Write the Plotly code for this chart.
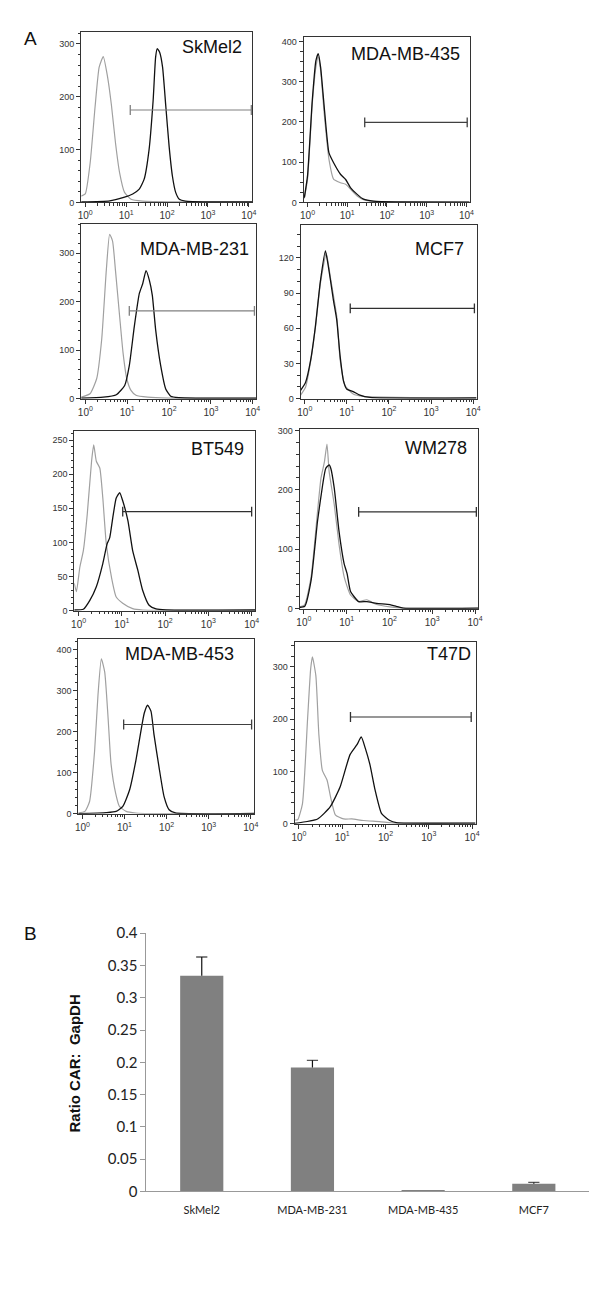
import plotly.graph_objects as go
import math

# ---------------- DATA ----------------
# Flow-cytometry histograms: x = log10(fluorescence), y = counts
skmel2_ctrl_x = [-0.1, 0.0, 0.12, 0.24, 0.34, 0.44, 0.54, 0.64, 0.74, 0.84, 0.96, 1.12, 1.40, 2.21, 4.08]
skmel2_ctrl_y = [12, 16, 75, 181, 256, 276, 240, 184, 112, 56, 19, 6, 2.5, 1, 0.5]
skmel2_car_x = [-0.1, 0.6, 0.92, 1.16, 1.32, 1.44, 1.56, 1.66, 1.72, 1.76, 1.82, 1.89, 1.97, 2.05, 2.13, 2.21, 2.30, 2.45, 3.0, 4.08]
skmel2_car_y = [1, 3, 9, 16, 25, 44, 100, 194, 275, 291, 284, 256, 181, 106, 50, 19, 6, 2.5, 1, 1]

mb435_ctrl_x = [-0.08, 0.0, 0.12, 0.21, 0.27, 0.33, 0.42, 0.54, 0.66, 0.83, 0.96, 1.08, 1.25, 1.41, 1.66, 2.24, 4.08]
mb435_ctrl_y = [10, 57, 246, 336, 362, 328, 221, 107, 57, 49, 45, 33, 16, 7, 2.5, 1, 0.5]
mb435_car_x = [-0.08, 0.0, 0.12, 0.21, 0.27, 0.33, 0.42, 0.54, 0.66, 0.83, 0.96, 1.08, 1.25, 1.41, 1.66, 2.24, 4.08]
mb435_car_y = [12, 66, 254, 352, 370, 336, 238, 123, 98, 70, 57, 37, 20, 8, 3, 1, 0.5]

mb231_ctrl_x = [-0.1, 0.11, 0.27, 0.39, 0.50, 0.58, 0.65, 0.72, 0.82, 0.90, 0.99, 1.09, 1.21, 1.49, 2.0, 4.08]
mb231_ctrl_y = [3, 10, 41, 122, 264, 339, 325, 264, 169, 95, 41, 17, 7, 3, 1, 0.5]
mb231_car_x = [-0.1, 0.43, 0.74, 0.94, 1.05, 1.17, 1.29, 1.37, 1.45, 1.53, 1.60, 1.68, 1.80, 1.92, 2.04, 2.23, 4.08]
mb231_car_y = [1, 3, 8, 27, 68, 149, 217, 237, 264, 244, 213, 142, 68, 20, 5, 2, 1]

mcf7_ctrl_x = [-0.1, 0.02, 0.14, 0.25, 0.37, 0.51, 0.61, 0.76, 0.84, 0.96, 1.15, 1.39, 4.08]
mcf7_ctrl_y = [3, 10, 32, 60, 98, 124, 103, 70, 33, 11, 4, 2, 0.5]
mcf7_car_x = [-0.1, 0.02, 0.14, 0.25, 0.37, 0.49, 0.54, 0.61, 0.68, 0.76, 0.84, 0.92, 1.0, 1.15, 1.31, 1.55, 4.08]
mcf7_car_y = [7, 14, 33, 61, 100, 126, 117, 101, 84, 67, 36, 15, 8, 6, 3, 1, 0.6]

bt549_ctrl_x = [-0.1, -0.05, 0.03, 0.11, 0.20, 0.30, 0.35, 0.41, 0.49, 0.56, 0.64, 0.76, 0.87, 1.02, 1.25, 1.48, 4.08]
bt549_ctrl_y = [40, 28, 64, 88, 141, 219, 243, 219, 209, 165, 98, 49, 20, 11, 3, 1, 0.5]
bt549_car_x = [-0.1, 0.11, 0.26, 0.41, 0.56, 0.66, 0.72, 0.79, 0.87, 0.95, 1.02, 1.14, 1.25, 1.37, 1.48, 1.63, 1.79, 2.02, 4.08]
bt549_car_y = [1, 2, 15, 35, 69, 98, 107, 136, 165, 173, 161, 132, 88, 59, 30, 8, 2.5, 1, 1]

wm278_ctrl_x = [-0.1, 0.02, 0.17, 0.32, 0.40, 0.48, 0.54, 0.59, 0.71, 0.82, 0.94, 1.09, 1.28, 1.47, 1.70, 2.01, 2.32, 4.08]
wm278_ctrl_y = [3, 7, 54, 164, 220, 247, 277, 231, 175, 109, 54, 23, 12, 15, 7, 3, 1, 0.5]
wm278_car_x = [-0.1, 0.02, 0.17, 0.32, 0.44, 0.51, 0.59, 0.63, 0.71, 0.82, 0.94, 1.01, 1.09, 1.28, 1.47, 1.70, 2.01, 2.16, 2.32, 4.08]
wm278_car_y = [2, 4, 48, 148, 209, 236, 242, 236, 203, 131, 76, 59, 29, 12, 12, 9, 7, 4, 1, 1]

mb453_ctrl_x = [-0.1, 0.06, 0.17, 0.29, 0.37, 0.45, 0.53, 0.61, 0.68, 0.79, 0.88, 1.04, 1.27, 1.59, 4.08]
mb453_ctrl_y = [2, 6, 30, 154, 290, 378, 346, 234, 122, 50, 18, 6, 2, 0.5, 0.5]
mb453_car_x = [-0.1, 0.57, 0.80, 0.96, 1.12, 1.27, 1.39, 1.47, 1.55, 1.63, 1.70, 1.82, 1.94, 2.06, 2.21, 4.08]
mb453_car_y = [0.5, 3, 6, 18, 58, 130, 202, 246, 265, 250, 194, 114, 42, 10, 2, 1]

t47d_ctrl_x = [-0.1, -0.03, 0.08, 0.20, 0.27, 0.31, 0.39, 0.46, 0.54, 0.65, 0.73, 0.84, 1.03, 1.22, 1.49, 1.86, 2.25, 4.08]
t47d_ctrl_y = [7, 7.5, 38, 202, 296, 319, 283, 170, 102, 83, 51, 17, 9, 9, 6, 4, 1, 0.5]
t47d_car_x = [-0.1, 0.43, 0.72, 0.95, 1.18, 1.34, 1.44, 1.53, 1.64, 1.76, 1.91, 2.10, 2.25, 4.08]
t47d_car_y = [0.5, 9, 32, 70, 132, 151, 166, 145, 113, 64, 19, 6, 2, 1]

# gate markers: (start log10, end log10, height)
gates = {
    "SkMel2": (1.10, 4.06, 175),
    "MDA-MB-435": (1.44, 4.02, 199),
    "MDA-MB-231": (1.05, 4.04, 181),
    "MCF7": (1.08, 4.03, 77),
    "BT549": (1.02, 4.00, 145),
    "WM278": (1.28, 4.03, 163),
    "MDA-MB-453": (0.98, 4.02, 218),
    "T47D": (1.19, 3.98, 204),
}

hist_names = ["SkMel2", "MDA-MB-435", "MDA-MB-231", "MCF7", "BT549", "WM278", "MDA-MB-453", "T47D"]
hist_ctrl = [(skmel2_ctrl_x, skmel2_ctrl_y), (mb435_ctrl_x, mb435_ctrl_y), (mb231_ctrl_x, mb231_ctrl_y),
             (mcf7_ctrl_x, mcf7_ctrl_y), (bt549_ctrl_x, bt549_ctrl_y), (wm278_ctrl_x, wm278_ctrl_y),
             (mb453_ctrl_x, mb453_ctrl_y), (t47d_ctrl_x, t47d_ctrl_y)]
hist_car = [(skmel2_car_x, skmel2_car_y), (mb435_car_x, mb435_car_y), (mb231_car_x, mb231_car_y),
            (mcf7_car_x, mcf7_car_y), (bt549_car_x, bt549_car_y), (wm278_car_x, wm278_car_y),
            (mb453_car_x, mb453_car_y), (t47d_car_x, t47d_car_y)]
hist_ymax = [323, 412, 360, 148, 263, 302, 426, 347]
hist_ytick = [100, 100, 100, 30, 50, 100, 100, 100]
hist_yminor = [20, 25, 20, 10, 10, 20, 20, 20]
x_tick_labels = ["10<sup>0</sup>", "10<sup>1</sup>", "10<sup>2</sup>", "10<sup>3</sup>", "10<sup>4</sup>"]

# Bar chart (panel B)
bar_categories = ["SkMel2", "MDA-MB-231", "MDA-MB-435", "MCF7"]
bar_values = [0.334, 0.192, 0.001, 0.012]
bar_errors = [0.029, 0.011, 0.0, 0.002]

# ---------------- LAYOUT (pixel boxes) ----------------
W, H = 600, 1297
boxes = [(71, 244, 14, 187), (296, 464, 19, 187), (71, 248, 209, 386), (293, 471, 210, 386),
         (64, 247, 419, 601), (292, 473, 417, 599), (68, 246, 630, 807), (287, 470, 633, 817)]
label_pos = [(236, 29), (456, 36), (243, 234), (460, 234), (238, 437), (463, 436), (228, 645), (467, 645)]
gate_colors = ["#808080", "#404040", "#808080", "#303030", "#303030", "#303030", "#404040", "#303030"]

def px(x):
    return x / W

def py(y):
    return 1 - y / H

fig = go.Figure()
minor_vals = [math.log10(k * 10 ** n) for n in range(0, 4) for k in range(2, 10)]
TICKFONT = dict(family="Liberation Sans, Arial, sans-serif", size=9, color="#333")
XTICKFONT = dict(family="Liberation Sans, Arial, sans-serif", size=10, color="#333")

layout = dict(width=W, height=H, margin=dict(l=0, r=0, t=0, b=0), autosize=False,
              paper_bgcolor="white", plot_bgcolor="white", showlegend=False)
annotations = []

for i, name in enumerate(hist_names):
    n = i + 1
    xa = "x" if n == 1 else f"x{n}"
    ya = "y" if n == 1 else f"y{n}"
    l, r, t, b = boxes[i]
    cx, cy = hist_ctrl[i]
    sx, sy = hist_car[i]
    fig.add_trace(go.Scatter(x=cx, y=cy, mode="lines", line=dict(color="#a0a0a0", width=1.2, shape="spline", smoothing=0.5),
                             xaxis=xa, yaxis=ya, hoverinfo="skip"))
    fig.add_trace(go.Scatter(x=sx, y=sy, mode="lines", line=dict(color="#111", width=1.3, shape="spline", smoothing=0.5),
                             xaxis=xa, yaxis=ya, hoverinfo="skip"))
    g0, g1, gh = gates[name]
    fig.add_trace(go.Scatter(x=[g0, g1], y=[gh, gh], mode="lines+markers",
                             line=dict(color=gate_colors[i], width=1.2),
                             marker=dict(symbol="line-ns-open", size=7, line=dict(width=1.3, color=gate_colors[i])),
                             xaxis=xa, yaxis=ya, hoverinfo="skip"))
    xkey = "xaxis" if n == 1 else f"xaxis{n}"
    ykey = "yaxis" if n == 1 else f"yaxis{n}"
    layout[xkey] = dict(domain=[px(l), px(r)], anchor=ya, range=[-0.1, 4.08], showgrid=False, zeroline=False,
                        showline=True, linecolor="#333", linewidth=1, mirror=True,
                        tickmode="array", tickvals=[0, 1, 2, 3, 4], ticktext=x_tick_labels,
                        ticks="outside", ticklen=4, tickcolor="#333", tickfont=XTICKFONT,
                        minor=dict(tickmode="array", tickvals=minor_vals, ticks="outside", ticklen=2.5, tickcolor="#333"))
    layout[ykey] = dict(domain=[py(b), py(t)], anchor=xa, range=[0, hist_ymax[i]], showgrid=False, zeroline=False,
                        showline=True, linecolor="#333", linewidth=1, mirror=True,
                        tickmode="linear", tick0=0, dtick=hist_ytick[i],
                        ticks="outside", ticklen=4, tickcolor="#333", tickfont=TICKFONT,
                        minor=dict(dtick=hist_yminor[i], ticks="outside", ticklen=2.5, tickcolor="#333"))
    lx, ly = label_pos[i]
    annotations.append(dict(text=name, x=px(lx), y=py(ly), xref="paper", yref="paper", xanchor="right",
                            yanchor="middle", showarrow=False,
                            font=dict(family="Liberation Sans, Arial, sans-serif", size=18, color="#111")))

# Bar chart
fig.add_trace(go.Bar(x=bar_categories, y=bar_values, marker=dict(color="#808080", line=dict(width=0)),
                     xaxis="x9", yaxis="y9", width=0.39, hoverinfo="skip"))
# upper error whiskers (from bar top to value + error, capped at top)
for cat, v, e in zip(bar_categories, bar_values, bar_errors):
    if e <= 0:
        continue
    fig.add_trace(go.Scatter(x=[cat, cat], y=[v, v + e], mode="lines+markers",
                             line=dict(color="#111", width=1.2),
                             marker=dict(symbol=["line-ew-open", "line-ew-open"], size=[0, 8],
                                         line=dict(width=1.3, color="#111")),
                             xaxis="x9", yaxis="y9", hoverinfo="skip"))

BARFONT = dict(family="Lato, Open Sans, sans-serif", size=15, color="#222")
layout["xaxis9"] = dict(domain=[px(137), px(585)], anchor="y9", showgrid=False, zeroline=False, showline=True,
                        linecolor="#999", linewidth=1, ticks="outside", ticklen=0, ticklabelstandoff=8,
                        tickfont=dict(family="Lato, Open Sans, sans-serif", size=11, color="#222"))
layout["yaxis9"] = dict(domain=[py(1190), py(928)], anchor="x9", range=[0, 0.4], showgrid=False, zeroline=False,
                        showline=True, linecolor="#999", linewidth=1, tickmode="linear", tick0=0, dtick=0.05,
                        ticks="outside", ticklen=5, tickcolor="#999", tickfont=BARFONT, tickformat="~g")
annotations.append(dict(text="<b>Ratio CAR:  GapDH</b>", x=px(64), y=py(1060), xref="paper", yref="paper",
                        textangle=-90, showarrow=False, xanchor="center", yanchor="middle",
                        font=dict(family="Liberation Sans, Arial, sans-serif", size=15, color="#111")))
annotations.append(dict(text="A", x=px(20), y=py(21), xref="paper", yref="paper", showarrow=False,
                        xanchor="center", yanchor="middle", font=dict(family="Liberation Sans, Arial, sans-serif", size=19, color="#111")))
annotations.append(dict(text="B", x=px(20), y=py(928), xref="paper", yref="paper", showarrow=False,
                        xanchor="center", yanchor="middle", font=dict(family="Liberation Sans, Arial, sans-serif", size=19, color="#111")))

layout["annotations"] = annotations
fig.update_layout(**layout)
fig.write_html("out.html")
